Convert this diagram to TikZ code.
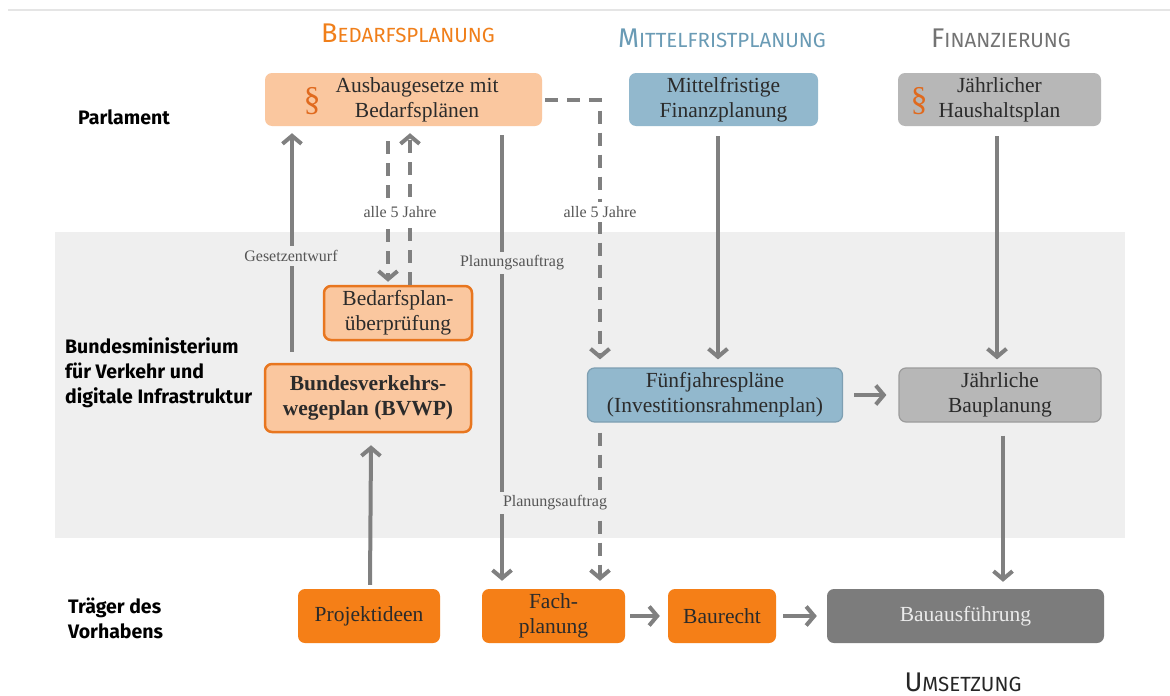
\documentclass[tikz,border=0pt]{standalone}
\usepackage{fontspec}
\setmainfont{Liberation Serif}
\newfontfamily\rowfont{Fira Sans}
\newfontfamily\headfont{Fira Sans}
\usetikzlibrary{arrows.meta}
\definecolor{bandgray}{HTML}{EFEFEF}
\definecolor{lightorange}{HTML}{FAC79F}
\definecolor{orangeborder}{HTML}{E8761F}
\definecolor{brightorange}{HTML}{F57F17}
\definecolor{paraorange}{HTML}{E06A1E}
\definecolor{bluebox}{HTML}{92B8CD}
\definecolor{blueborder}{HTML}{7E9FB2}
\definecolor{graybox}{HTML}{B7B7B7}
\definecolor{grayborder}{HTML}{9C9C9C}
\definecolor{darkbox}{HTML}{7C7C7C}
\definecolor{arrowgray}{HTML}{808080}
\definecolor{textdark}{HTML}{2B2B2B}
\definecolor{labelgray}{HTML}{555555}
\definecolor{headorange}{HTML}{F07F1A}
\definecolor{headblue}{HTML}{6A9BB5}
\definecolor{headgray}{HTML}{737373}
\newcommand\hdrtext[2]{{\fontsize{27}{27}\selectfont #1}{\fontsize{20.5}{20}\selectfont #2}}
\tikzset{
  box/.style={rounded corners=7pt, minimum height=53pt, align=center, inner sep=0pt,
    text=textdark, font=\fontsize{21.5}{25}\selectfont},
  obox/.style={box, fill=lightorange},
  oboxb/.style={box, fill=lightorange, draw=orangeborder, line width=2.5pt},
  bbox/.style={box, fill=bluebox},
  gbox/.style={box, fill=graybox},
  fbox/.style={box, fill=brightorange},
  arr/.style={draw=arrowgray, line width=4pt, -{Straight Barb[length=8pt,width=19pt]}},
  darr/.style={arr, dash pattern=on 13pt off 9pt},
  lbl/.style={font=\fontsize{16}{18}\selectfont, text=labelgray, inner ysep=4pt, inner xsep=6pt},
  rowlabel/.style={font=\rowfont\bfseries\fontsize{19.5}{25}\selectfont, align=left, anchor=west, inner sep=0pt, text=black},
  header/.style={font=\headfont, inner sep=0pt},
  para/.style={text=paraorange, font=\fontsize{34}{34}\selectfont, inner sep=0pt}
}
\begin{document}
\begin{tikzpicture}[x=1pt,y=-1pt]
\useasboundingbox (0,0) rectangle (1170,696);
\fill[white] (0,0) rectangle (1170,696);
\draw[black!10, line width=1.5pt] (8,10) -- (1170,10);
\fill[bandgray] (55,232) rectangle (1125,538);

% headers
\node[header, text=headorange] (hbed) at (408,33) {\hdrtext{B}{EDARFSPLANUNG}};
\node[header, text=headblue] (hmit) at (722,38) {\hdrtext{M}{ITTELFRISTPLANUNG}};
\node[header, text=headgray] (hfin) at (1001,38) {\hdrtext{F}{INANZIERUNG}};
\node[header, text=black!85] (hums) at (963,682) {\hdrtext{U}{MSETZUNG}};

% row labels
\node[rowlabel] (rparl) at (78,117) {Parlament};
\node[rowlabel] (rbmv) at (65,373) {Bundesministerium\\für Verkehr und\\digitale Infrastruktur};
\node[rowlabel] (rtrag) at (68,618) {Träger des\\Vorhabens};

% top row
\node[obox, minimum width=277pt] (ausbau) at (403.5,99.5) {};
\node[box] (ausbautxt) at (417,99.5) {Ausbaugesetze mit\\Bedarfsplänen};
\node[para] (para1) at (312,101) {\S};
\node[bbox, minimum width=189pt] (mfp) at (723.5,99.5) {Mittelfristige\\Finanzplanung};
\node[gbox, minimum width=203pt] (haus) at (999.5,99.5) {Jährlicher\\Haushaltsplan};
\node[para] (para2) at (919,101) {\S};

% middle row
\node[oboxb, minimum width=148pt, minimum height=54pt] (bpu) at (398,313) {Bedarfsplan-\\überprüfung};
\node[oboxb, minimum width=206pt, minimum height=68pt, font=\fontsize{21.5}{25}\selectfont\bfseries] (bvwp) at (368,398) {Bundesverkehrs-\\wegeplan (BVWP)};
\node[bbox, draw=blueborder, line width=1.2pt, minimum width=255pt, minimum height=54pt] (fjp) at (715,395) {Fünfjahrespläne\\(Investitionsrahmenplan)};
\node[gbox, draw=grayborder, line width=1.2pt, minimum width=202pt, minimum height=54pt] (jbp) at (1000,395) {Jährliche\\Bauplanung};

% bottom row
\node[fbox, minimum width=142pt, minimum height=54pt] (proj) at (369,616) {Projektideen};
\node[fbox, minimum width=143pt, minimum height=54pt] (fach) at (553.5,616) {Fach-\\planung};
\node[fbox, minimum width=108pt, minimum height=54pt] (baur) at (722,616) {Baurecht};
\node[box, fill=darkbox, text=white!92!black, minimum width=277pt, minimum height=54pt] (baua) at (965.5,616) {Bauausführung};

% connectors
\draw[arr] ([xshift=-76pt,yshift=11pt]bvwp.north) -- ([xshift=-111.5pt,yshift=-7pt]ausbau.south);
\draw[darr] ([xshift=-15.5pt,yshift=-15pt]ausbau.south) -- ([xshift=-10pt,yshift=3pt]bpu.north);
\draw[darr] ([xshift=12pt]bpu.north) -- ([xshift=6.5pt,yshift=-7pt]ausbau.south);
\draw[arr] ([xshift=98.5pt,yshift=-9pt]ausbau.south) -- ([xshift=-51.5pt,yshift=8pt]fach.north);
\draw[darr] ([xshift=3pt]ausbau.east) -| ([xshift=-115pt,yshift=8pt]fjp.north);
\draw[darr] ([xshift=-115pt,yshift=-10pt]fjp.south) -- ([xshift=46.5pt,yshift=8pt]fach.north);
\draw[arr] ([xshift=-5.5pt,yshift=-10pt]mfp.south) -- ([xshift=3pt,yshift=8pt]fjp.north);
\draw[arr] ([xshift=-2.5pt,yshift=-10pt]haus.south) -- ([xshift=-3pt,yshift=8pt]jbp.north);
\draw[arr] ([xshift=11pt]fjp.east) -- ([xshift=-12pt]jbp.west);
\draw[arr] ([xshift=3pt,yshift=-13pt]jbp.south) -- ([xshift=37.5pt,yshift=7pt]baua.north);
\draw[arr] ([xshift=1pt,yshift=4pt]proj.north) -- ([xshift=3pt,yshift=-12pt]bvwp.south);
\draw[arr] ([xshift=5pt]fach.east) -- ([xshift=-8pt]baur.west);
\draw[arr] ([xshift=7pt]baur.east) -- ([xshift=-10pt]baua.west);

% connector labels
\node[lbl, fill=bandgray] (lges) at (291,256) {Gesetzentwurf};
\node[lbl, fill=white] (l5a) at (400,212) {alle 5 Jahre};
\node[lbl, fill=white] (l5b) at (600,212) {alle 5 Jahre};
\node[lbl, fill=bandgray] (lpla) at (512,263) {Planungsauftrag};
\node[lbl, fill=bandgray] (lplb) at (555,503) {Planungsauftrag};
\end{tikzpicture}
\end{document}
